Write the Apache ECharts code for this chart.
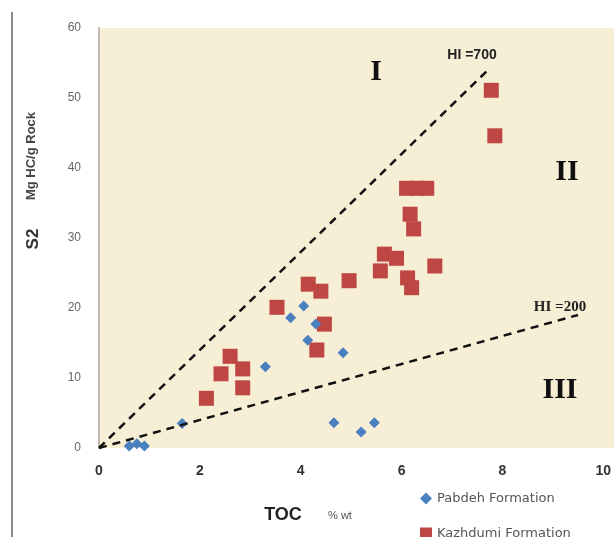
<!DOCTYPE html>
<html>
<head>
<meta charset="utf-8">
<script src="https://cdn.jsdelivr.net/npm/echarts@6/dist/echarts.min.js"></script>
<style>
  html, body { margin: 0; padding: 0; background: #fff; }
  #main { width: 614px; height: 537px; }
</style>
</head>
<body>
<div id="main"></div>
<script>
// Pabdeh Formation (blue diamonds)
var pabdehToc = [0.6, 0.75, 0.9, 1.65, 3.3, 3.8, 4.06, 4.3, 4.14, 4.84, 4.66, 5.2, 5.46];
var pabdehS2  = [0.3, 0.6, 0.3, 3.5, 11.6, 18.6, 20.3, 17.7, 15.4, 13.6, 3.6, 2.3, 3.6];

// Kazhdumi Formation (red squares)
var kazhdumiToc = [2.13, 2.42, 2.6, 2.85, 2.85, 3.53, 4.15, 4.4, 4.47, 4.32, 4.96, 5.58, 5.66, 5.9,
                   6.12, 6.2, 6.66, 6.17, 6.24, 6.1, 6.3, 6.5, 7.78, 7.85];
var kazhdumiS2  = [7.1, 10.6, 13.1, 11.3, 8.6, 20.1, 23.4, 22.4, 17.7, 14.0, 23.9, 25.3, 27.7, 27.1,
                   24.3, 22.9, 26.0, 33.4, 31.3, 37.1, 37.1, 37.1, 51.1, 44.6];

// HI boundary lines
var hi700Line = [[0, 0], [7.75, 54.25]];
var hi200Line = [[0, 0], [9.5, 19]];

var xTicks = { min: 0, max: 10, interval: 2 };
var yTicks = { min: 0, max: 60, interval: 10 };

function pairs(xs, ys) {
    return xs.map(function (x, i) { return [x, ys[i]]; });
}

var chart = echarts.init(document.getElementById('main'));

var bg = '#f7eed6';
var dashStyle = { color: '#111', width: 2.5, type: [8, 6] };

chart.setOption({
    animation: false,
    grid: {
        left: 99, right: 7, top: 28, bottom: 89,
        show: true, backgroundColor: bg, borderWidth: 0
    },
    xAxis: {
        type: 'value',
        min: xTicks.min, max: xTicks.max, interval: xTicks.interval,
        axisLine: { show: false },
        axisTick: { show: false },
        splitLine: { show: false },
        axisLabel: { margin: 16, fontSize: 14, color: '#333', fontFamily: 'Liberation Sans', fontWeight: 'bold' }
    },
    yAxis: {
        type: 'value',
        min: yTicks.min, max: yTicks.max, interval: yTicks.interval,
        axisLine: { show: true, lineStyle: { color: '#c2bcb0', width: 2 } },
        axisTick: { show: false },
        splitLine: { show: false },
        axisLabel: { margin: 18, fontSize: 12, color: '#666', fontFamily: 'Liberation Sans' }
    },
    legend: {
        orient: 'vertical',
        left: 420, top: 492, height: 80, padding: 0,
        itemWidth: 12, itemHeight: 12, itemGap: 22,
        textStyle: { fontSize: 13, color: '#555', fontFamily: 'DejaVu Sans' },
        data: [
            { name: 'Pabdeh Formation', icon: 'diamond' },
            { name: 'Kazhdumi Formation', icon: 'rect' }
        ]
    },
    series: [
        {
            type: 'line', data: hi700Line, symbol: 'none', silent: true,
            lineStyle: dashStyle
        },
        {
            type: 'line', data: hi200Line, symbol: 'none', silent: true,
            lineStyle: dashStyle
        },
        {
            name: 'Kazhdumi Formation', type: 'scatter', symbol: 'rect', symbolSize: 15,
            itemStyle: { color: '#be4744', opacity: 1 },
            data: pairs(kazhdumiToc, kazhdumiS2)
        },
        {
            name: 'Pabdeh Formation', type: 'scatter', symbol: 'diamond', symbolSize: 11,
            itemStyle: { color: '#4a7fc0', opacity: 1 },
            data: pairs(pabdehToc, pabdehS2)
        }
    ],
    graphic: [
        // background continues past x = 10 to the picture edge
        { type: 'rect', z: -1, shape: { x: 598, y: 28, width: 16, height: 420 }, style: { fill: bg } },
        { type: 'line', shape: { x1: 12, y1: 12, x2: 12, y2: 537 }, style: { stroke: '#8a8a8a', lineWidth: 2 } },
        // y axis name
        { type: 'text', x: 31, y: 156, rotation: Math.PI / 2,
          style: { text: 'Mg HC/g Rock', font: 'bold 13px "Liberation Sans"', fill: '#444', align: 'center', verticalAlign: 'middle' } },
        { type: 'text', x: 33, y: 239, rotation: Math.PI / 2,
          style: { text: 'S2', font: 'bold 17px "Liberation Sans"', fill: '#333', align: 'center', verticalAlign: 'middle' } },
        // x axis name
        { type: 'text', x: 283, y: 515,
          style: { text: 'TOC', font: 'bold 18px "Liberation Sans"', fill: '#222', align: 'center', verticalAlign: 'middle' } },
        { type: 'text', x: 340, y: 516,
          style: { text: '% wt', font: '11px "Liberation Sans"', fill: '#555', align: 'center', verticalAlign: 'middle' } },
        // kerogen type regions
        { type: 'text', x: 376, y: 72,
          style: { text: 'I', font: 'bold 30px "Liberation Serif"', fill: '#111', align: 'center', verticalAlign: 'middle' } },
        { type: 'text', x: 567, y: 172,
          style: { text: 'II', font: 'bold 30px "Liberation Serif"', fill: '#111', align: 'center', verticalAlign: 'middle' } },
        { type: 'text', x: 560, y: 390,
          style: { text: 'III', font: 'bold 30px "Liberation Serif"', fill: '#111', align: 'center', verticalAlign: 'middle' } },
        { type: 'text', x: 472, y: 55,
          style: { text: 'HI =700', font: 'bold 14px "Liberation Sans"', fill: '#222', align: 'center', verticalAlign: 'middle' } },
        { type: 'text', x: 560, y: 307,
          style: { text: 'HI =200', font: 'bold 15px "Liberation Serif"', fill: '#222', align: 'center', verticalAlign: 'middle' } }
    ]
});
</script>
</body>
</html>
